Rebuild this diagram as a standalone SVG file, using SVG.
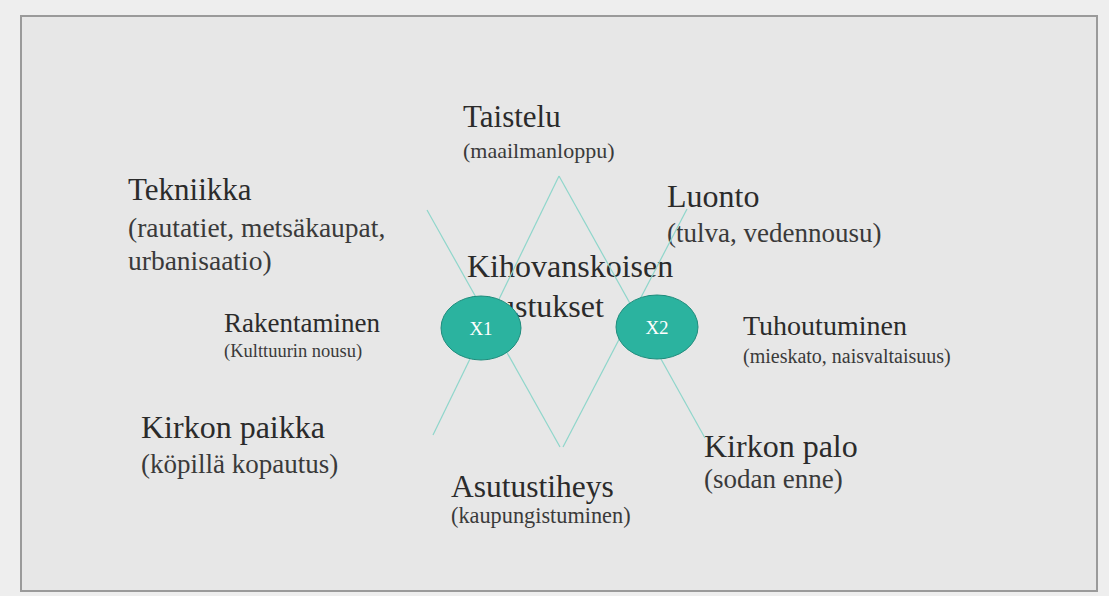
<svg xmlns="http://www.w3.org/2000/svg" width="1109" height="596" viewBox="0 0 1109 596">
<style>
.t{font-family:"Liberation Serif","DejaVu Serif",serif;fill:#2b2b2b}
.s{font-family:"Liberation Serif","DejaVu Serif",serif;fill:#3a3a3a}
.c{stroke:#8fd6cb;stroke-width:1.2;fill:none}
.n{fill:#2bb39f;stroke:#1f8c7c;stroke-width:1}
.x{font-family:"Liberation Serif","DejaVu Serif",serif;fill:#ffffff;font-size:19px;text-anchor:middle}
</style>
<rect x="0" y="0" width="1109" height="596" fill="#eeeeee"/>
<rect x="21" y="16" width="1076" height="575" fill="#e7e7e7" stroke="#9a9a9a" stroke-width="2"/>
<g id="taistelu"><text class="t" x="463" y="127" font-size="31">Taistelu</text><text class="s" x="463" y="158" font-size="22">(maailmanloppu)</text></g>
<g id="tekniikka"><text class="t" x="128" y="200" font-size="31">Tekniikka</text><text class="s" x="128" y="237" font-size="27.5">(rautatiet, metsäkaupat,</text><text class="s" x="128" y="270" font-size="27.5">urbanisaatio)</text></g>
<g id="luonto"><text class="t" x="667" y="207" font-size="32">Luonto</text><text class="s" x="667" y="242" font-size="27">(tulva, vedennousu)</text></g>
<g id="rakentaminen"><text class="t" x="224" y="332" font-size="27">Rakentaminen</text><text class="s" x="224" y="357" font-size="18.5">(Kulttuurin nousu)</text></g>
<g id="tuhoutuminen"><text class="t" x="743" y="335" font-size="28">Tuhoutuminen</text><text class="s" x="743" y="363" font-size="20">(mieskato, naisvaltaisuus)</text></g>
<g id="kirkon-paikka"><text class="t" x="141" y="438" font-size="32">Kirkon paikka</text><text class="s" x="141" y="473" font-size="27">(köpillä kopautus)</text></g>
<g id="kirkon-palo"><text class="t" x="704" y="457" font-size="32">Kirkon palo</text><text class="s" x="704" y="488" font-size="27">(sodan enne)</text></g>
<g id="asutustiheys"><text class="t" x="451" y="497" font-size="31.5">Asutustiheys</text><text class="s" x="451" y="523" font-size="22.3">(kaupungistuminen)</text></g>
<g id="kihovanskoisen"><text class="t" x="467" y="277" font-size="32">Kihovanskoisen</text><text class="t" x="499" y="317" font-size="32">ustukset</text></g>
<g id="connectors">
<line class="c" x1="427" y1="210" x2="560" y2="447"/>
<line class="c" x1="433" y1="435" x2="559" y2="176"/>
<line class="c" x1="559" y1="176" x2="705" y2="438"/>
<line class="c" x1="563" y1="447" x2="687" y2="209"/>
</g>
<g id="x1"><ellipse class="n" cx="481" cy="328" rx="40" ry="32"/><text class="x" x="481" y="335">X1</text></g>
<g id="x2"><ellipse class="n" cx="657" cy="327" rx="41" ry="32"/><text class="x" x="657" y="334">X2</text></g>
</svg>
